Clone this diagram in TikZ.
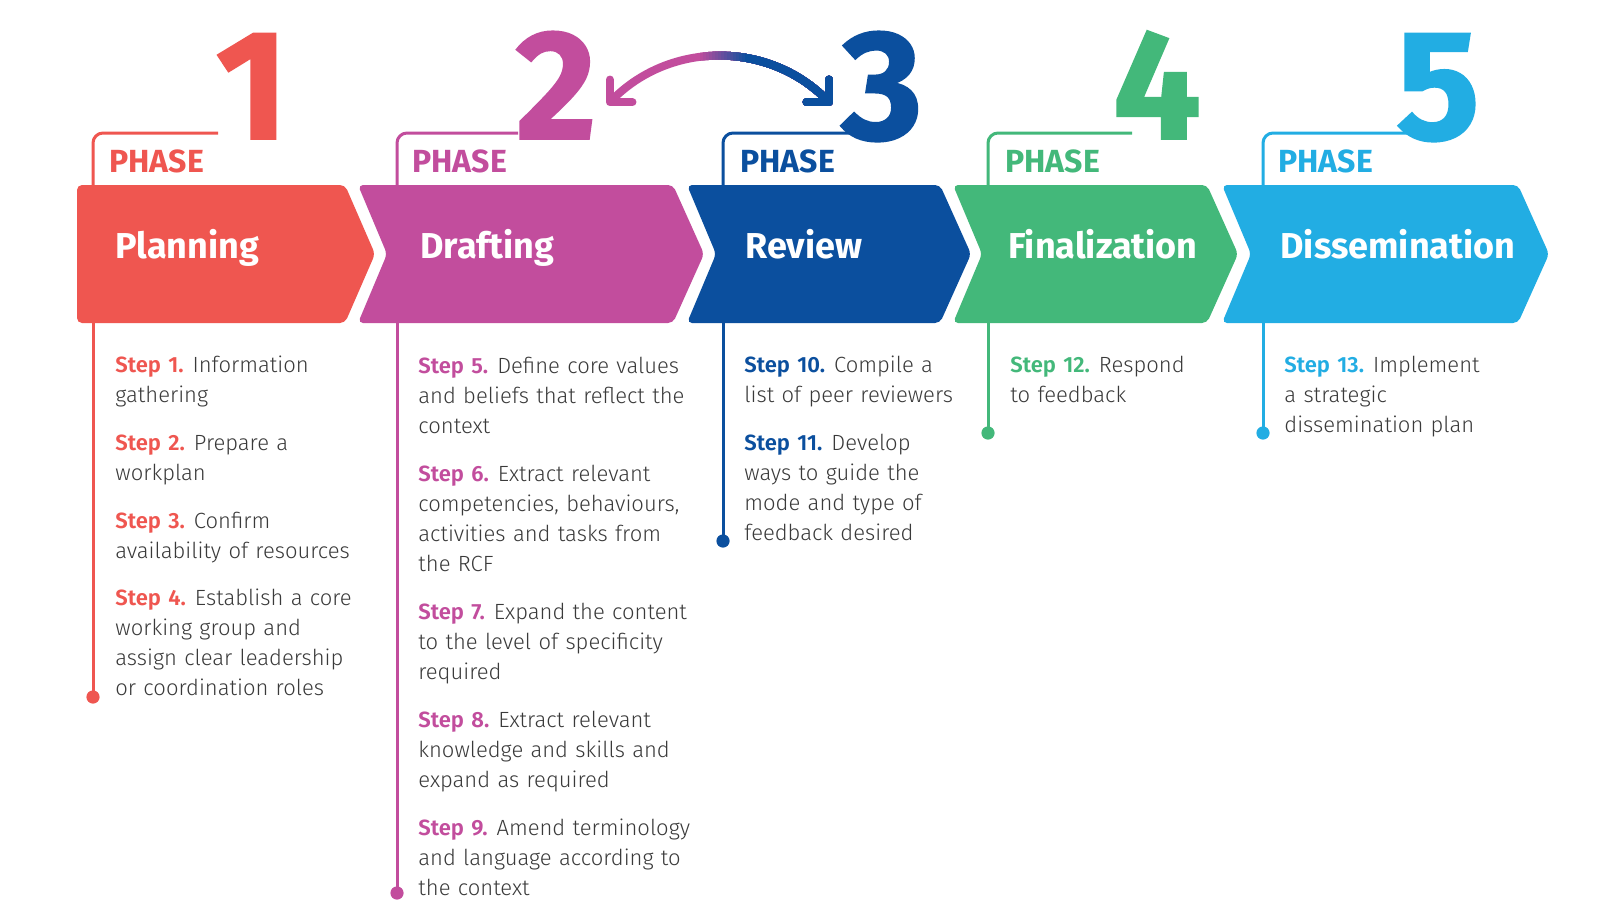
\documentclass[tikz,border=0pt]{standalone}
\usepackage{fontspec}
\setmainfont{Fira Sans}[UprightFont=* Light, BoldFont=* SemiBold]
\newfontfamily\headfont{Fira Sans}[UprightFont=* Bold]
\newfontfamily\numfont{Fira Sans}[UprightFont=* Bold, UprightFeatures={FakeBold=1.2}]
\usepackage{xcolor}
\usepackage{tikz}
\usetikzlibrary{arrows.meta}

\definecolor{planning}{HTML}{EF5650}
\definecolor{drafting}{HTML}{C24D9D}
\definecolor{review}{HTML}{0B4F9E}
\definecolor{final}{HTML}{43B87A}
\definecolor{dissem}{HTML}{22ADE3}
\definecolor{txt}{HTML}{3A3A3A}

\tikzset{
  phasetitle/.style={anchor=base west, inner sep=0pt, text=white, font=\fontsize{18}{18}\selectfont\headfont},
  phaselabel/.style={anchor=base west, inner sep=0pt, font=\fontsize{16}{16}\selectfont\headfont},
  bignum/.style={anchor=base, inner sep=0pt, font=\fontsize{78}{78}\selectfont\numfont},
  stepbox/.style={anchor=base west, inner sep=0pt, align=left, text width=#1, text=txt, font=\fontsize{11}{15}\selectfont},
  stepbox/.default=135pt,
  timeline/.style={line width=1.5pt},
  swap/.style={line width=4pt, line cap=round, {Straight Barb[length=8pt,width=16pt,round]}-{Straight Barb[length=8pt,width=16pt,round]}}
}
\newcommand{\steplabel}[2]{{\bfseries\color{#1}Step #2.}\kern-1pt\relax}

\begin{document}
\begin{tikzpicture}[x=0.5pt, y=-0.5pt]
    \fill[white] (0,0) rectangle (1604,923);
    \useasboundingbox (0,0) rectangle (1604,923);

    % Các đường thời gian và ngoặc
    \foreach \v/\e/\d/\c in {93/218/697/planning, 397/518/893/drafting, 723/850/541/review, 988/1132/433/final, 1263/1407/433/dissem} {
        \draw[\c, timeline, rounded corners=5pt] (\v,190) |- (\e,133);
        \draw[\c, timeline] (\v,320) -- (\v,\d);
        \fill[\c] (\v,\d) circle (3.3pt);
    }

    % Các mũi tên chevron
    \fill[planning, rounded corners=2.5pt] (77,185) -- (345,185) -- (375,254) -- (345,323) -- (77,323) -- cycle;
    \foreach \l/\r/\c in {358/673/drafting, 687/940/review, 953/1207/final, 1222/1518/dissem} {
        \fill[\c, rounded corners=2.5pt] (\l,185) -- (\r,185) -- (\r+31,254) -- (\r,323) -- (\l,323) -- (\l+29,254) -- cycle;
    }

    % Số thứ tự
    \node[bignum, text=planning] (d1) at (252,139) {1};
    \node[bignum, text=drafting] (d2) at (556,139) {2};
    \node[bignum, text=review] (d3) at (882,139) {3};
    \node[bignum, text=final] (d4) at (1157,139) {4};
    \node[bignum, text=dissem] (d5) at (1438,139) {5};

    % PHASE
    \node[phaselabel, text=planning] (ph1) at (109,172) {PHASE};
    \node[phaselabel, text=drafting] (ph2) at (412,172) {PHASE};
    \node[phaselabel, text=review] (ph3) at (740,172) {PHASE};
    \node[phaselabel, text=final] (ph4) at (1005,172) {PHASE};
    \node[phaselabel, text=dissem] (ph5) at (1278,172) {PHASE};

    % Tên giai đoạn
    \node[phasetitle] (t1) at (115,258) {Planning};
    \node[phasetitle] (t2) at (420,258) {Drafting};
    \node[phasetitle] (t3) at (745,258) {Review};
    \node[phasetitle] (t4) at (1008,258) {Finalization};
    \node[phasetitle] (t5) at (1280,258) {Dissemination};

    % Mũi tên hai chiều giữa 2 và 3
    \coordinate (a2) at (607,105);
    \coordinate (a3) at (832,105);
    \draw[drafting, swap] (a2) .. controls (671,41) and (768,41) .. (a3);
    \foreach \k in {0,...,15} {
        \pgfmathtruncatemacro\p{6.25*(\k+1)}
        \begin{scope}
            \clip (700+3*\k,0) rectangle (900,140);
            \draw[review!\p!drafting, swap] (a2) .. controls (671,41) and (768,41) .. (a3);
        \end{scope}
    }

    % Các bước
    \node[stepbox] (s1) at (115,372) {\steplabel{planning}{1} Information\\gathering};
    \node[stepbox] (s2) at (115,450) {\steplabel{planning}{2} Prepare a\\workplan};
    \node[stepbox] (s3) at (115,528) {\steplabel{planning}{3} Confirm\\availability of resources};
    \node[stepbox] (s4) at (115,605) {\steplabel{planning}{4} Establish a core\\working group and\\assign clear leadership\\or coordination roles};

    \node[stepbox=140pt] (s5) at (418,373) {\steplabel{drafting}{5} Define core values\\and beliefs that reflect the\\context};
    \node[stepbox=140pt] (s6) at (418,481) {\steplabel{drafting}{6} Extract relevant\\competencies, behaviours,\\activities and tasks from\\the RCF};
    \node[stepbox=140pt] (s7) at (418,619) {\steplabel{drafting}{7} Expand the content\\to the level of specificity\\required};
    \node[stepbox=140pt] (s8) at (418,727) {\steplabel{drafting}{8} Extract relevant\\knowledge and skills and\\expand as required};
    \node[stepbox=140pt] (s9) at (418,835) {\steplabel{drafting}{9} Amend terminology\\and language according to\\the context};

    \node[stepbox=118pt] (s10) at (744,372) {\steplabel{review}{10} Compile a\\list of peer reviewers};
    \node[stepbox=118pt] (s11) at (744,450) {\steplabel{review}{11} Develop\\ways to guide the\\mode and type of\\feedback desired};

    \node[stepbox=118pt] (s12) at (1010,372) {\steplabel{final}{12} Respond\\to feedback};

    \node[stepbox=135pt] (s13) at (1284,372) {\steplabel{dissem}{13} Implement\\a strategic\\dissemination plan};

\end{tikzpicture}
\end{document}
